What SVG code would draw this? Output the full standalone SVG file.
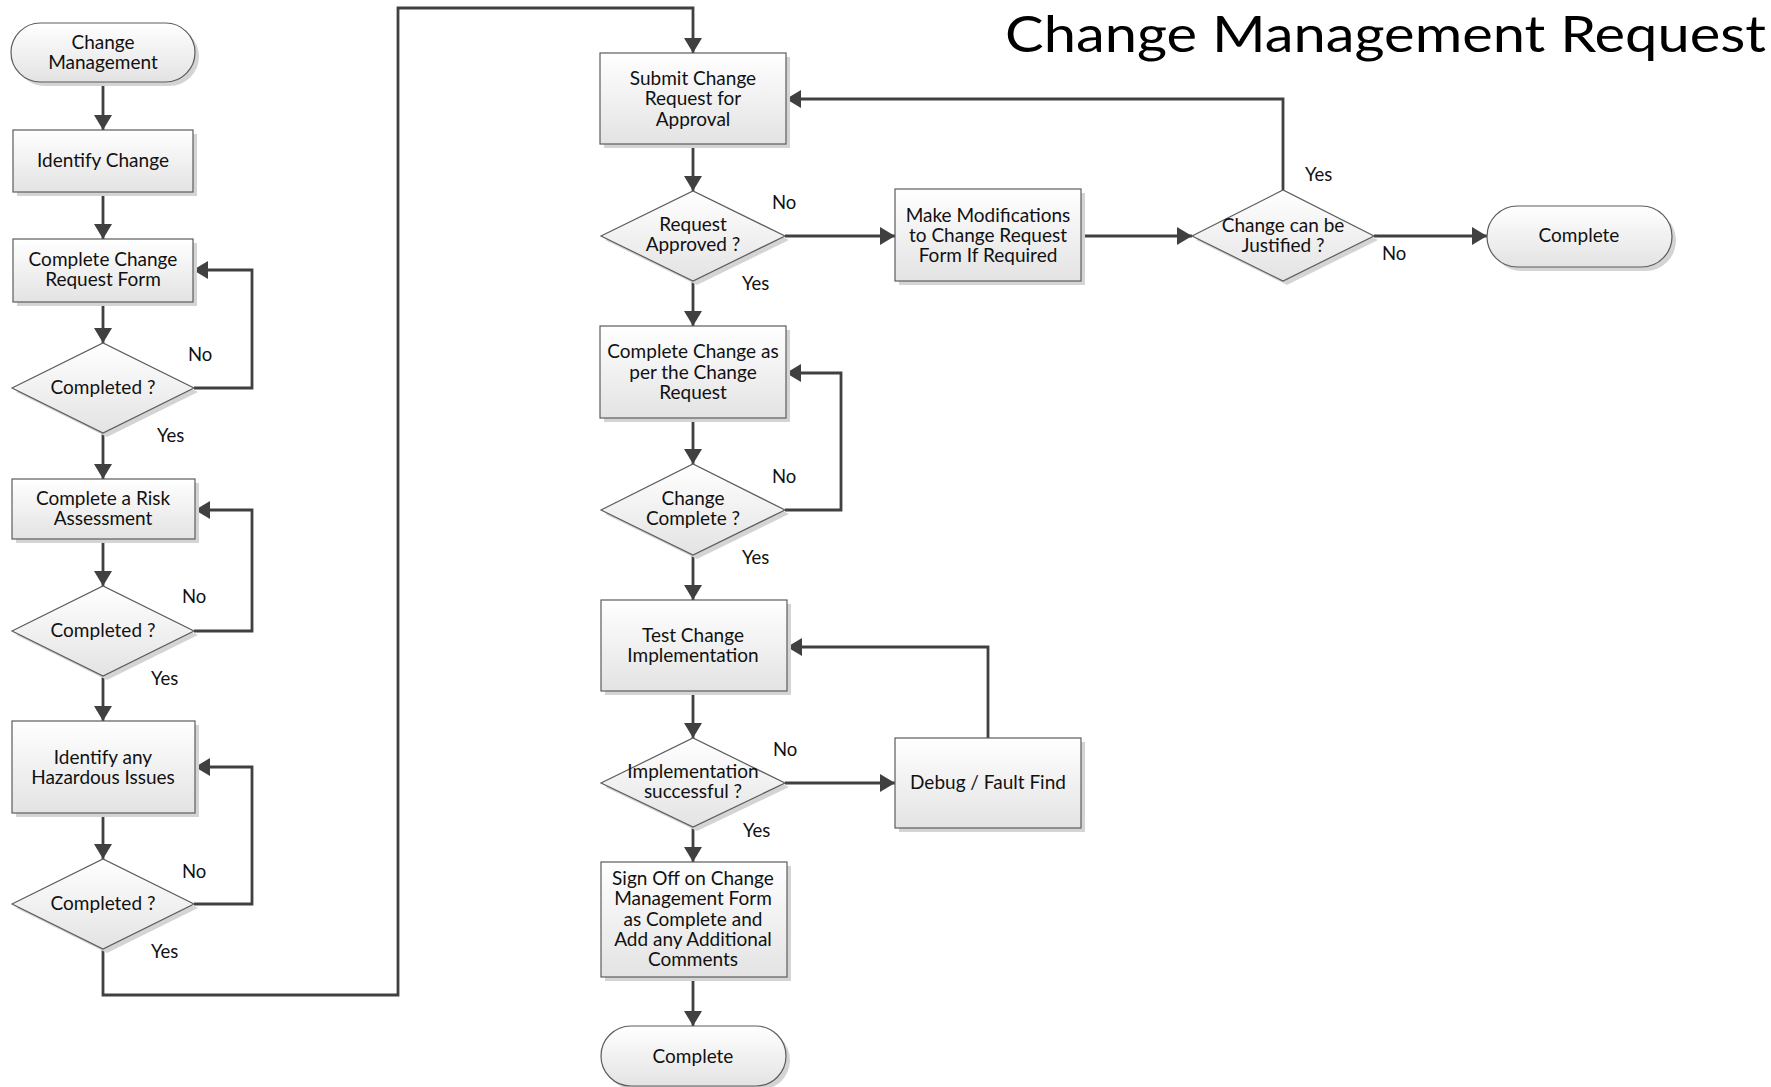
<svg xmlns="http://www.w3.org/2000/svg" width="1771" height="1087" viewBox="0 0 1771 1087">
<style>
  .shape { fill: url(#grad); stroke: #5c5c5c; stroke-width: 1.2; }
  .shadow { fill: #d4d4d4; }
  .t { font-family: Lato, "Open Sans", sans-serif; font-size: 19px; fill: #111; text-anchor: middle; }
  .lbl { font-family: Lato, "Open Sans", sans-serif; font-size: 18.5px; fill: #111; }
  .title { font-family: Lato, "Open Sans", sans-serif; font-size: 51px; fill: #000; text-anchor: end; }
  .c { fill: none; stroke: #404040; stroke-width: 2.8; }
  .a { marker-end: url(#arr); }
</style>
<defs>
  <linearGradient id="grad" x1="0" y1="0" x2="0" y2="1">
    <stop offset="0" stop-color="#ffffff"/>
    <stop offset="1" stop-color="#e3e3e3"/>
  </linearGradient>
  <marker id="arr" markerUnits="userSpaceOnUse" markerWidth="16" markerHeight="18" refX="15" refY="9" orient="auto">
    <path d="M0,0 L15,9 L0,18 z" fill="#404040"/>
  </marker>
</defs>
<rect width="1771" height="1087" fill="#ffffff"/>

<text class="title" x="1766" y="52" textLength="761" lengthAdjust="spacingAndGlyphs">Change Management Request</text>

<g id="connectors">
  <path class="c a" d="M103,82 V130"/>
  <path class="c a" d="M103,192 V239"/>
  <path class="c a" d="M103,302 V343"/>
  <path class="c a" d="M194,388 H252 V270 H193"/>
  <path class="c a" d="M103,433 V479"/>
  <path class="c a" d="M103,539 V586"/>
  <path class="c a" d="M194,631 H252 V510 H195"/>
  <path class="c a" d="M103,676 V721"/>
  <path class="c a" d="M103,813 V859"/>
  <path class="c a" d="M194,904 H252 V767 H195"/>
  <path class="c a" d="M103,949 V995 H398 V8 H693 V53"/>
  <path class="c a" d="M693,144 V191"/>
  <path class="c a" d="M785,236 H895"/>
  <path class="c a" d="M1081,236 H1192"/>
  <path class="c a" d="M1374,236 H1487"/>
  <path class="c a" d="M1283,190 V99 H786"/>
  <path class="c a" d="M693,281 V326"/>
  <path class="c a" d="M693,418 V464"/>
  <path class="c a" d="M785,510 H841 V373 H786"/>
  <path class="c a" d="M693,555 V600"/>
  <path class="c a" d="M693,691 V738"/>
  <path class="c a" d="M785,783 H895"/>
  <path class="c a" d="M988,738 V647 H787"/>
  <path class="c a" d="M693,827 V862"/>
  <path class="c a" d="M693,977 V1026"/>
</g>

<g id="labels">
  <text class="lbl" x="188" y="361">No</text>
  <text class="lbl" x="157" y="442">Yes</text>
  <text class="lbl" x="182" y="603">No</text>
  <text class="lbl" x="151" y="685">Yes</text>
  <text class="lbl" x="182" y="878">No</text>
  <text class="lbl" x="151" y="958">Yes</text>
  <text class="lbl" x="772" y="209">No</text>
  <text class="lbl" x="742" y="290">Yes</text>
  <text class="lbl" x="772" y="483">No</text>
  <text class="lbl" x="742" y="564">Yes</text>
  <text class="lbl" x="773" y="756">No</text>
  <text class="lbl" x="743" y="837">Yes</text>
  <text class="lbl" x="1305" y="181">Yes</text>
  <text class="lbl" x="1382" y="260">No</text>
</g>

<g id="start">
  <rect class="shadow" x="15" y="27" width="184" height="59" rx="29.5"/>
  <rect class="shape" x="11" y="23" width="184" height="59" rx="29.5"/>
  <text class="t" x="103" y="49">Change</text>
  <text class="t" x="103" y="69">Management</text>
</g>
<g id="identify-change">
  <rect class="shadow" x="17" y="134" width="180" height="62"/>
  <rect class="shape" x="13" y="130" width="180" height="62"/>
  <text class="t" x="103" y="167">Identify Change</text>
</g>
<g id="complete-form">
  <rect class="shadow" x="17" y="243" width="180" height="63"/>
  <rect class="shape" x="13" y="239" width="180" height="63"/>
  <text class="t" x="103" y="266">Complete Change</text>
  <text class="t" x="103" y="286">Request Form</text>
</g>
<g id="completed-1">
  <polygon class="shadow" points="16,392 107,347 198,392 107,437"/>
  <polygon class="shape" points="12,388 103,343 194,388 103,433"/>
  <text class="t" x="103" y="394">Completed ?</text>
</g>
<g id="risk-assessment">
  <rect class="shadow" x="16" y="483" width="183" height="60"/>
  <rect class="shape" x="12" y="479" width="183" height="60"/>
  <text class="t" x="103" y="505">Complete a Risk</text>
  <text class="t" x="103" y="525">Assessment</text>
</g>
<g id="completed-2">
  <polygon class="shadow" points="16,635 107,590 198,635 107,680"/>
  <polygon class="shape" points="12,631 103,586 194,631 103,676"/>
  <text class="t" x="103" y="637">Completed ?</text>
</g>
<g id="hazardous">
  <rect class="shadow" x="16" y="725" width="183" height="92"/>
  <rect class="shape" x="12" y="721" width="183" height="92"/>
  <text class="t" x="103" y="764">Identify any</text>
  <text class="t" x="103" y="784">Hazardous Issues</text>
</g>
<g id="completed-3">
  <polygon class="shadow" points="16,908 107,863 198,908 107,953"/>
  <polygon class="shape" points="12,904 103,859 194,904 103,949"/>
  <text class="t" x="103" y="910">Completed ?</text>
</g>

<g id="submit">
  <rect class="shadow" x="604" y="57" width="186" height="91"/>
  <rect class="shape" x="600" y="53" width="186" height="91"/>
  <text class="t" x="693" y="85">Submit Change</text>
  <text class="t" x="693" y="105">Request for</text>
  <text class="t" x="693" y="126">Approval</text>
</g>
<g id="request-approved">
  <polygon class="shadow" points="605,240 697,195 789,240 697,285"/>
  <polygon class="shape" points="601,236 693,191 785,236 693,281"/>
  <text class="t" x="693" y="231">Request</text>
  <text class="t" x="693" y="251">Approved ?</text>
</g>
<g id="modifications">
  <rect class="shadow" x="899" y="193" width="186" height="92"/>
  <rect class="shape" x="895" y="189" width="186" height="92"/>
  <text class="t" x="988" y="222">Make Modifications</text>
  <text class="t" x="988" y="242">to Change Request</text>
  <text class="t" x="988" y="262">Form If Required</text>
</g>
<g id="justified">
  <polygon class="shadow" points="1196,240 1287,194 1378,240 1287,285"/>
  <polygon class="shape" points="1192,236 1283,190 1374,236 1283,281"/>
  <text class="t" x="1283" y="232">Change can be</text>
  <text class="t" x="1283" y="252">Justified ?</text>
</g>
<g id="complete-right">
  <rect class="shadow" x="1491" y="210" width="185" height="61" rx="30.5"/>
  <rect class="shape" x="1487" y="206" width="185" height="61" rx="30.5"/>
  <text class="t" x="1579" y="242">Complete</text>
</g>
<g id="complete-change">
  <rect class="shadow" x="604" y="330" width="186" height="92"/>
  <rect class="shape" x="600" y="326" width="186" height="92"/>
  <text class="t" x="693" y="358">Complete Change as</text>
  <text class="t" x="693" y="379">per the Change</text>
  <text class="t" x="693" y="399">Request</text>
</g>
<g id="change-complete">
  <polygon class="shadow" points="605,514 697,468 789,514 697,559"/>
  <polygon class="shape" points="601,510 693,464 785,510 693,555"/>
  <text class="t" x="693" y="505">Change</text>
  <text class="t" x="693" y="525">Complete ?</text>
</g>
<g id="test-change">
  <rect class="shadow" x="605" y="604" width="186" height="91"/>
  <rect class="shape" x="601" y="600" width="186" height="91"/>
  <text class="t" x="693" y="642">Test Change</text>
  <text class="t" x="693" y="662">Implementation</text>
</g>
<g id="implementation">
  <polygon class="shadow" points="605,787 697,742 789,787 697,831"/>
  <polygon class="shape" points="601,783 693,738 785,783 693,827"/>
  <text class="t" x="693" y="778">Implementation</text>
  <text class="t" x="693" y="798">successful ?</text>
</g>
<g id="debug">
  <rect class="shadow" x="899" y="742" width="186" height="90"/>
  <rect class="shape" x="895" y="738" width="186" height="90"/>
  <text class="t" x="988" y="789">Debug / Fault Find</text>
</g>
<g id="sign-off">
  <rect class="shadow" x="605" y="866" width="186" height="115"/>
  <rect class="shape" x="601" y="862" width="186" height="115"/>
  <text class="t" x="693" y="885">Sign Off on Change</text>
  <text class="t" x="693" y="905">Management Form</text>
  <text class="t" x="693" y="926">as Complete and</text>
  <text class="t" x="693" y="946">Add any Additional</text>
  <text class="t" x="693" y="966">Comments</text>
</g>
<g id="complete-bottom">
  <rect class="shadow" x="605" y="1030" width="185" height="60" rx="30"/>
  <rect class="shape" x="601" y="1026" width="185" height="60" rx="30"/>
  <text class="t" x="693" y="1063">Complete</text>
</g>
</svg>
